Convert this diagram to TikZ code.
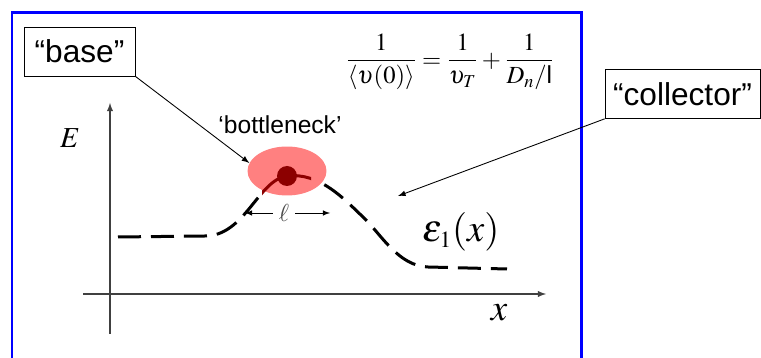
\documentclass[tikz,border=0pt]{standalone}
\usepackage{mathptmx}
\usepackage[no-math]{fontspec}
\setmainfont{Liberation Sans}
\usetikzlibrary{shapes}

\definecolor{neckred}{RGB}{255,128,128}
\definecolor{dotred}{RGB}{140,0,0}

\begin{document}
\begin{tikzpicture}[x=0.02cm,y=0.02cm,>=latex,
    labelbox/.style={draw,font=\fontsize{18}{22}\selectfont,minimum height=0.98cm,inner xsep=0.1cm},
    band/.style={line width=0.06cm,dash pattern=on 0.46cm off 0.2cm},
    pointer/.style={->,line width=0.5pt},
    axis/.style={->,black!75,line width=0.6pt}]
          \useasboundingbox (0,0) rectangle (761,358);
          \draw[blue,line width=0.06cm] (12,0) -- (12,345) -- (581,345) -- (581,0);
          % axes
          \draw[axis] (110,24) -- (110,255);
          \draw[axis] (83,64) -- (546,64);
          \node[font=\fontsize{16.5}{20}\selectfont] (Elab) at (70,220) {$E$};
          \node[font=\fontsize{21}{25}\selectfont] (Xlab) at (499,45) {$x$};
          % band edge, dashed away from the bottleneck
          \begin{scope}
            \clip (0,0) rectangle (259,358) (316,0) rectangle (761,358);
            \draw[band] (118,121) -- (205,122) .. controls (245,122) and (258,178) .. (287,182)
              .. controls (320,186) and (345,158) .. (363,141)
              .. controls (381,124) and (398,92) .. (428,91) -- (507,89);
          \end{scope}
          \node[ellipse,fill=neckred,minimum width=1.58cm,minimum height=0.98cm,inner sep=0] (neck) at (287,187) {};
          \begin{scope}
            \clip (262,0) rectangle (311,358);
            \draw[dotred,line width=0.06cm] (205,122) .. controls (245,122) and (258,178) .. (287,182)
              .. controls (320,186) and (345,158) .. (363,141);
          \end{scope}
          \node[circle,fill=dotred,minimum size=0.4cm,inner sep=0] (dot) at (287,182) {};
          \node[font=\fontsize{22}{26}\selectfont] (Eps) at (461,126) {$\varepsilon_{\scriptscriptstyle 1}(x)$};
          % length of the bottleneck
          \node[font=\fontsize{14}{17}\selectfont,text=black!70] (len) at (284,145) {$\ell$};
          \coordinate (lenL) at (245,145);
          \coordinate (lenR) at (330,145);
          \path[->] (len) edge (lenL);
          \path[->] (len) edge (lenR);
          % labels and pointers
          \node[font=\fontsize{14}{17}\selectfont] (neckname) at (280,233) {‘bottleneck’};
          \node[labelbox,minimum width=2.22cm] (base) at (79.5,306.5) {“base”};
          \node[labelbox,minimum width=3.1cm] (collector) at (682.5,264) {“collector”};
          \coordinate (slope) at (398,162);
          \path[pointer] (base.south east) edge (neck.168);
          \path[pointer] (collector.south west) edge (slope);
          \node[font=\fontsize{14}{17}\selectfont] (formula) at (450,296)
            {$\displaystyle \frac{1}{\langle\upsilon(0)\rangle}=\frac{1}{\upsilon_T}+\frac{1}{D_n/\mbox{l}}$};
        \end{tikzpicture}
\end{document}
